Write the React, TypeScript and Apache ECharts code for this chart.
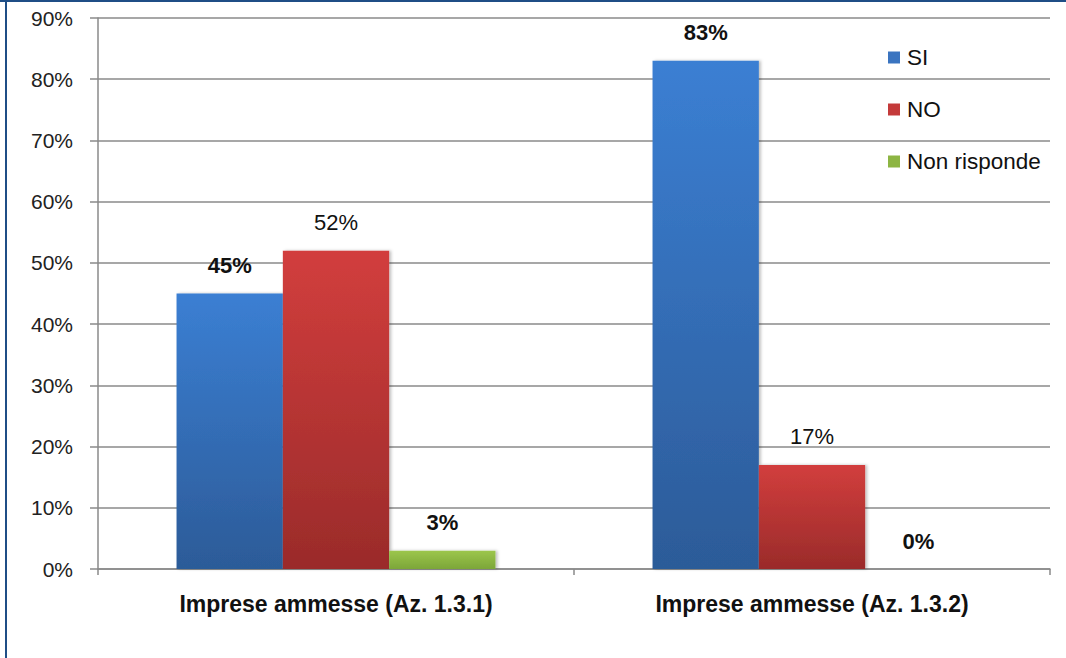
import React, { useEffect, useRef } from "react";
import * as echarts from "echarts";

const categories = ["Imprese ammesse (Az. 1.3.1)", "Imprese ammesse (Az. 1.3.2)"];
const seriesNames = ["SI", "NO", "Non risponde"];
const siValues = [45, 83];
const noValues = [52, 17];
const nrValues = [3, 0];
const yTicks = { min: 0, max: 90, interval: 10 };

const FONT = "'Liberation Sans', Arial, sans-serif";

function grad(top: string, bottom: string) {
  return new echarts.graphic.LinearGradient(0, 0, 0, 1, [
    { offset: 0, color: top },
    { offset: 1, color: bottom },
  ]);
}

export default function App() {
  const ref = useRef<HTMLDivElement>(null);
  useEffect(() => {
    if (!ref.current) return;
    const chart = echarts.init(ref.current, undefined, { renderer: "svg" });
    const mkSeries = (name: string, data: number[], top: string, bottom: string, bold: boolean) => ({
      name,
      type: "bar",
      data,
      barGap: "0%",
      barCategoryGap: "33%",
      itemStyle: {
        color: grad(top, bottom),
        shadowColor: "rgba(0,0,0,0.25)",
        shadowBlur: 3,
        shadowOffsetX: 2,
        shadowOffsetY: 0,
      },
      label: {
        show: true,
        position: "top",
        distance: 17,
        formatter: "{c}%",
        fontFamily: FONT,
        fontSize: 22,
        fontWeight: bold ? "bold" : "normal",
        color: "#111",
      },
      emphasis: { disabled: true },
    });
    chart.setOption({
      animation: false,
      backgroundColor: "#fff",
      grid: { left: 98, right: 16, top: 18, bottom: 89, containLabel: false, outerBoundsMode: "none" },
      legend: {
        orient: "vertical",
        left: 883,
        top: 41,
        itemWidth: 12,
        itemHeight: 12,
        itemGap: 29,
        icon: "rect",
        textStyle: { fontFamily: FONT, fontSize: 22.5, color: "#111", padding: [0, 0, 0, 2] },
        data: [
          { name: "SI", itemStyle: { color: "#3a74c0" } },
          { name: "NO", itemStyle: { color: "#c43a3a" } },
          { name: "Non risponde", itemStyle: { color: "#8db543" } },
        ],
      },
      xAxis: {
        type: "category",
        data: categories,
        axisLine: { show: true, lineStyle: { color: "#8a8a8a", width: 1.5 } },
        axisTick: { show: true, length: 6, lineStyle: { color: "#8a8a8a", width: 1.5 } },
        axisLabel: {
          margin: 23,
          fontFamily: FONT,
          fontSize: 23,
          fontWeight: "bold",
          color: "#111",
        },
      },
      yAxis: {
        type: "value",
        min: yTicks.min,
        max: yTicks.max,
        interval: yTicks.interval,
        axisLine: { show: true, lineStyle: { color: "#8a8a8a", width: 1.5 } },
        axisTick: { show: true, length: 8, inside: false, lineStyle: { color: "#8a8a8a", width: 1.5 } },
        splitLine: { show: true, lineStyle: { color: "#8a8a8a", width: 1.5 } },
        axisLabel: {
          formatter: "{value}%",
          margin: 25,
          fontFamily: FONT,
          fontSize: 21,
          color: "#222",
        },
      },
      series: [
        mkSeries(seriesNames[0], siValues, "#3b7fd3", "#2c5b98", true),
        mkSeries(seriesNames[1], noValues, "#d23e3d", "#9a2b2a", false),
        mkSeries(seriesNames[2], nrValues, "#9cc64c", "#7ca639", true),
      ],
    });
    return () => chart.dispose();
  }, []);
  return (
    <div style={{ position: "absolute", left: 0, top: 0, width: 1066, height: 658, background: "#fff" }}>
      <div ref={ref} style={{ position: "absolute", left: 0, top: 0, width: 1066, height: 658 }} />
      <div style={{ position: "absolute", left: 0, top: 0, width: 1066, height: 2, background: "#1f4e86" }} />
      <div style={{ position: "absolute", left: 5, top: 0, width: 2, height: 658, background: "#1f4e86" }} />
    </div>
  );
}
